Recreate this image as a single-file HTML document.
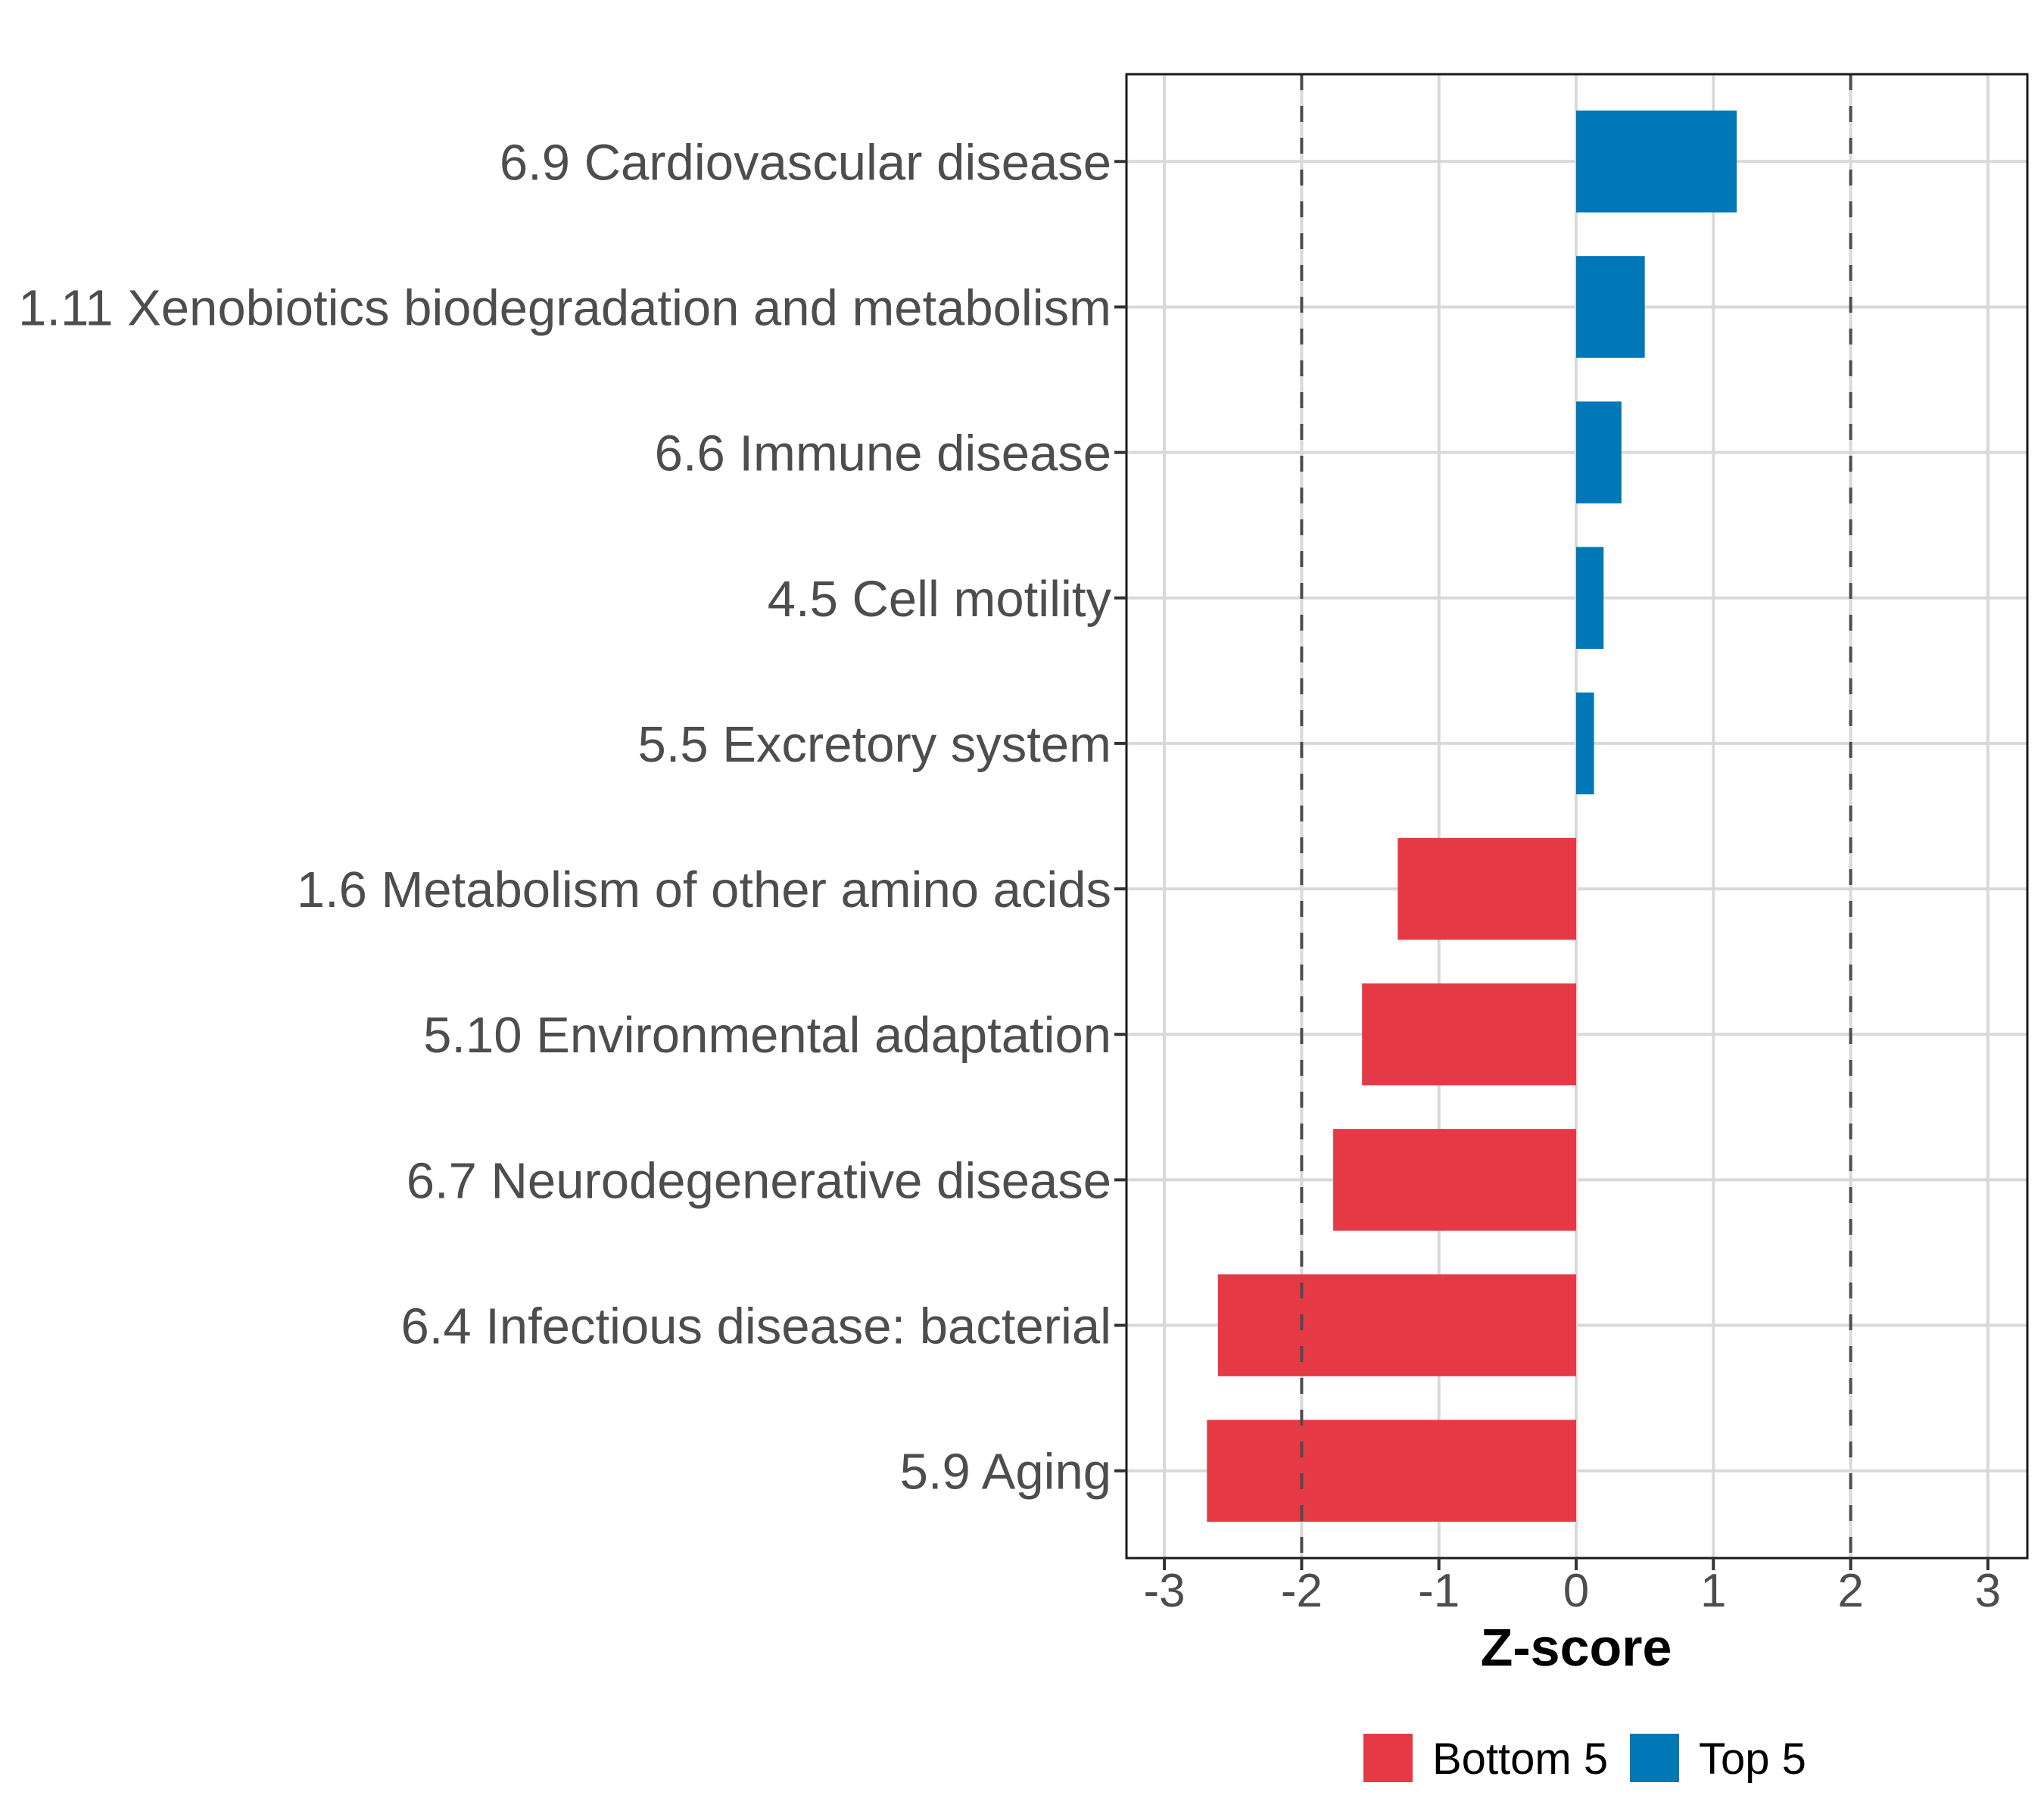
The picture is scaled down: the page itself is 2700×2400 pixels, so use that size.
<!DOCTYPE html>
<html><head><meta charset="utf-8"><style>
html,body{margin:0;padding:0;background:#fff;}
svg{display:block;font-family:"Liberation Sans",Arial,sans-serif;}
</style></head><body>
<svg id="chart" width="2700" height="2400" viewBox="0 0 2700 2400" xmlns="http://www.w3.org/2000/svg">
<rect width="2700" height="2400" fill="#fff"/>
<g id="grid"></g>
<g id="bars"></g>
<g id="refs"></g>
<g id="axes"></g>
<text x="2082" y="2200" text-anchor="middle" font-size="70" font-weight="bold" fill="#000">Z-score</text>
<g>
<rect x="1801" y="2290" width="65" height="64" fill="#E63946"/>
<text x="1892" y="2343" font-size="58" fill="#000">Bottom 5</text>
<rect x="2153" y="2290" width="65" height="64" fill="#0077B6"/>
<text x="2244" y="2343" font-size="58" fill="#000">Top 5</text>
</g>
</svg>
<script>
const categories = ["6.9 Cardiovascular disease","1.11 Xenobiotics biodegradation and metabolism","6.6 Immune disease","4.5 Cell motility","5.5 Excretory system","1.6 Metabolism of other amino acids","5.10 Environmental adaptation","6.7 Neurodegenerative disease","6.4 Infectious disease: bacterial","5.9 Aging"];
const zscores = [1.17, 0.50, 0.33, 0.20, 0.13, -1.30, -1.56, -1.77, -2.61, -2.69];
const groups = ["Top 5","Top 5","Top 5","Top 5","Top 5","Bottom 5","Bottom 5","Bottom 5","Bottom 5","Bottom 5"];
const xTicks = [-3,-2,-1,0,1,2,3];
const xTickLabels = ["-3","-2","-1","0","1","2","3"];
const refLines = [-2, 2];

const NS="http://www.w3.org/2000/svg";
const L=1488,R=2678,T=98,B=2058;
const x0=2082, ux=181.3;
const X=v=>x0+v*ux;
const step=(B-T)/(categories.length+0.2);
const Y=i=>T+step*(0.6+i);
const colors={"Top 5":"#0077B6","Bottom 5":"#E63946"};
function mk(tag,attrs,parent){const e=document.createElementNS(NS,tag);for(const k in attrs)e.setAttribute(k,attrs[k]);parent.appendChild(e);return e;}
const grid=document.getElementById('grid'),bars=document.getElementById('bars'),refs=document.getElementById('refs'),axes=document.getElementById('axes');
mk('rect',{x:L,y:T,width:R-L,height:B-T,fill:'#fff'},grid);
xTicks.forEach((t,i)=>{
  const g=mk('line',{x1:X(t),x2:X(t),y1:T,y2:B,stroke:'#d9d9d9','stroke-width':4},grid);
  
  
});
categories.forEach((c,i)=>{
  const g=mk('line',{x1:L,x2:R,y1:Y(i),y2:Y(i),stroke:'#d9d9d9','stroke-width':4},grid);
  
  
});
const bh=step*0.7;
zscores.forEach((v,i)=>{
  const r=mk('rect',{x:Math.min(X(0),X(v)),y:Y(i)-bh/2,width:Math.abs(X(v)-X(0)),height:bh,fill:colors[groups[i]]},bars);
  
  
});
refLines.forEach(v=>{
  const l=mk('line',{x1:X(v),x2:X(v),y1:T,y2:B,stroke:'#4d4d4d','stroke-width':4,'stroke-dasharray':'21 21'},refs);
  
  
});
mk('rect',{x:L,y:T,width:R-L,height:B-T,fill:'none',stroke:'#1a1a1a','stroke-width':3},axes);
xTicks.forEach((t,i)=>{
  mk('line',{x1:X(t),x2:X(t),y1:B,y2:B+16,stroke:'#333','stroke-width':4},axes);
  const tx=mk('text',{x:X(t),y:B+64,'text-anchor':'middle','font-size':62,fill:'#4d4d4d'},axes);
  tx.textContent=xTickLabels[i];
  
  
});
categories.forEach((c,i)=>{
  mk('line',{x1:L-16,x2:L,y1:Y(i),y2:Y(i),stroke:'#333','stroke-width':4},axes);
  const tx=mk('text',{x:L-20,y:Y(i)+24,'text-anchor':'end','font-size':67,fill:'#4d4d4d'},axes);
  tx.textContent=c;
  
  
});
</script>
</body></html>
